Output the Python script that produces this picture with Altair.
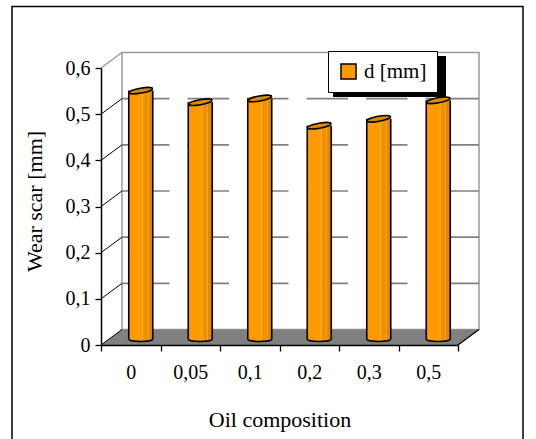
import altair as alt
import pandas as pd

# ---- data ----
categories = ["0", "0,05", "0,1", "0,2", "0,3", "0,5"]
wear_scar = [0.538, 0.513, 0.521, 0.462, 0.477, 0.517]
series_name = ["d [mm]"] * 6
y_ticks = [0, 0.1, 0.2, 0.3, 0.4, 0.5, 0.6]
grid_levels = [0.1, 0.2, 0.3, 0.4, 0.5]
x_title = "Oil composition"
y_title = "Wear scar [mm]"

# ---- layout / style ----
W, H = 357, 277          # front face of the 3-D box (plot area)
DX, DY = 21, -15.5       # depth of the 3-D box
BX, BY = 10, -6          # where the cylinders stand inside the depth
BW = 24                  # cylinder diameter
FONT = "Liberation Serif"
ORANGE = "#FF9900"
GRAY = "#808080"
WALL = "#9a9a9a"

bars = pd.DataFrame({"cat": categories, "val": wear_scar, "series": series_name})
grid = pd.DataFrame({"val": grid_levels})
side = pd.DataFrame({"val": grid_levels + [0]})
gaps = pd.DataFrame({"cat": categories[1:]})
one = pd.DataFrame({"k": [0]})

xsc = alt.Scale(domain=categories, paddingInner=0, paddingOuter=0)
ysc = alt.Scale(domain=[0, 0.6], nice=False, zero=True)

X_AXIS = alt.Axis(
    title=x_title, orient="bottom", domainColor="black", domainWidth=1.5,
    tickColor="black", tickWidth=1.3, tickSize=6, tickBand="extent",
    labelFont=FONT, labelFontSize=20, labelColor="black", labelPadding=11,
    labelAngle=0, titleFont=FONT, titleFontSize=22, titleFontWeight="normal",
    titleColor="black", titleY=81, titleBaseline="alphabetic", grid=False, zindex=1,
)


def X(**kw):
    return alt.X("cat:N", scale=xsc, sort=categories, axis=X_AXIS, **kw)


def Y(**kw):
    return alt.Y("val:Q", scale=ysc, **kw)


ELLIPSE = "M-1,0A1,0.21 0 1,1 1,0A1,0.21 0 1,1 -1,0Z"
body_grad = alt.LinearGradient(
    gradient="linear", x1=0, x2=1, y1=0, y2=0,
    stops=[
        alt.GradientStop(color="#FF9900", offset=0),
        alt.GradientStop(color="#FF9A00", offset=0.54),
        alt.GradientStop(color="#FFB54A", offset=0.57),
        alt.GradientStop(color="#F59300", offset=0.61),
        alt.GradientStop(color="#EE8F00", offset=0.78),
        alt.GradientStop(color="#FFB040", offset=0.81),
        alt.GradientStop(color="#E68A00", offset=0.84),
        alt.GradientStop(color="#DA8300", offset=1),
    ],
)

# outer frame of the chart object
frame = alt.Chart(one).mark_rect(filled=False, stroke="black", strokeWidth=1.5).encode(
    x=alt.value(12 - 101), x2=alt.value(523 - 101), y=alt.value(-61.5), y2=alt.value(420)
)

# back wall
wall = alt.Chart(one).mark_rect(fill="white", stroke=WALL, strokeWidth=1.5,
                                yOffset=DY, y2Offset=DY).encode(
    x=alt.value(DX), x2=alt.value(W + DX), y=alt.datum(0.6), y2=alt.datum(0)
)

# gridlines on the back wall
grid_lines = alt.Chart(grid).mark_rule(color=GRAY, strokeWidth=1.6, yOffset=DY).encode(
    y=Y(), x=alt.value(DX), x2=alt.value(W + DX)
)

# the breaks of the gridlines between the categories
grid_gaps = alt.Chart(gaps).mark_rule(color="white", strokeWidth=18, strokeCap="butt",
                                      xOffset=DX - 3, yOffset=DY - 2, y2Offset=DY + 2).encode(
    x=X(bandPosition=0), y=alt.datum(0.5), y2=alt.datum(0.1)
)

# top-left edge of the side wall
top_edge = alt.Chart(one).mark_rule(color=WALL, strokeWidth=1.5, y2Offset=DY).encode(
    x=alt.value(0), x2=alt.value(DX), y=alt.datum(0.6), y2=alt.datum(0.6)
)

# floor
floor = alt.Chart(one).mark_point(
    shape=f"M0,0L{W},0L{W + DX},{DY}L{DX},{DY}Z", size=4, filled=True,
    fill=GRAY, strokeWidth=0, opacity=1
).encode(x=alt.value(0), y=alt.datum(0))

floor_edge = alt.Chart(one).mark_rule(color="black", strokeWidth=1.3, y2Offset=DY).encode(
    x=alt.value(W), x2=alt.value(W + DX), y=alt.datum(0), y2=alt.datum(0)
)

# side-wall gridlines
side_lines = alt.Chart(side).mark_rule(color="black", strokeWidth=1, y2Offset=DY).encode(
    x=alt.value(0), x2=alt.value(DX), y=Y(), y2="val:Q"
)

# cylinders
bottoms = alt.Chart(bars).mark_point(
    shape=ELLIPSE, size=BW * BW, filled=True, fill=body_grad, stroke="black",
    strokeWidth=1.5, opacity=1, xOffset=BX, yOffset=BY
).encode(x=X(), y=alt.datum(0))

legend = alt.Legend(
    title=None, orient="none", legendX=227, legendY=-17, fillColor="white",
    strokeColor="black", padding=10, symbolType="square",
    symbolSize=225, symbolStrokeColor="black", symbolStrokeWidth=1.5,
    symbolFillColor=ORANGE, labelFont=FONT, labelFontSize=21, labelColor="black",
    labelOffset=5,
)

body = alt.Chart(bars).mark_bar(
    width=BW, xOffset=BX, yOffset=BY, y2Offset=BY, strokeWidth=0
).encode(
    x=X(),
    y=Y(axis=alt.Axis(
        title=y_title, values=y_ticks,
        labelExpr="replace(format(datum.value, '.1~f'), '.', ',')",
        domainColor="black", domainWidth=1.5, tickColor="black", tickWidth=1.3,
        tickSize=6, labelFont=FONT, labelFontSize=20, labelColor="black",
        labelPadding=5, titleFont=FONT, titleFontSize=22, titleFontWeight="normal",
        titleColor="black", titleAngle=270, titleAlign="center",
        titleBaseline="alphabetic", titleX=-60, titleY=133, grid=False, zindex=1,
    )),
    y2=alt.datum(0),
    color=alt.Color("series:N", scale=alt.Scale(range=[ORANGE]), legend=legend),
)

shade = alt.Chart(bars).mark_bar(
    width=BW, xOffset=BX, yOffset=BY, y2Offset=BY, strokeWidth=0, fill=body_grad
).encode(x=X(), y=Y(), y2=alt.datum(0))

left_edge = alt.Chart(bars).mark_rule(
    color="black", strokeWidth=1.6, xOffset=BX - BW / 2, yOffset=BY, y2Offset=BY
).encode(x=X(), y=Y(), y2=alt.datum(0))

right_edge = alt.Chart(bars).mark_rule(
    color="black", strokeWidth=1.6, xOffset=BX + BW / 2, yOffset=BY, y2Offset=BY
).encode(x=X(), y=Y(), y2=alt.datum(0))

tops = alt.Chart(bars).mark_point(
    shape=ELLIPSE, size=BW * BW, angle=350, filled=True, fill="#D98A00",
    stroke="black", strokeWidth=1.5, opacity=1, xOffset=BX, yOffset=BY
).encode(x=X(), y=Y())

# legend drop shadow
shadow = alt.Chart(one).mark_rect(fill="black").encode(
    x=alt.value(232), x2=alt.value(345), y=alt.value(-12), y2=alt.value(29)
)

chart = alt.layer(
    frame, wall, grid_lines, grid_gaps, top_edge, floor, floor_edge, side_lines,
    bottoms, body, shade, left_edge, right_edge, tops, shadow,
).properties(
    width=W, height=H,
    autosize=alt.AutoSizeParams(type="none"),
    padding={"left": 101, "top": 68, "right": 536 - 101 - W, "bottom": 439 - 68 - H},
    background="white",
).configure_view(stroke=None)

chart.save("out.html", embed_options={"renderer": "svg", "actions": False})
